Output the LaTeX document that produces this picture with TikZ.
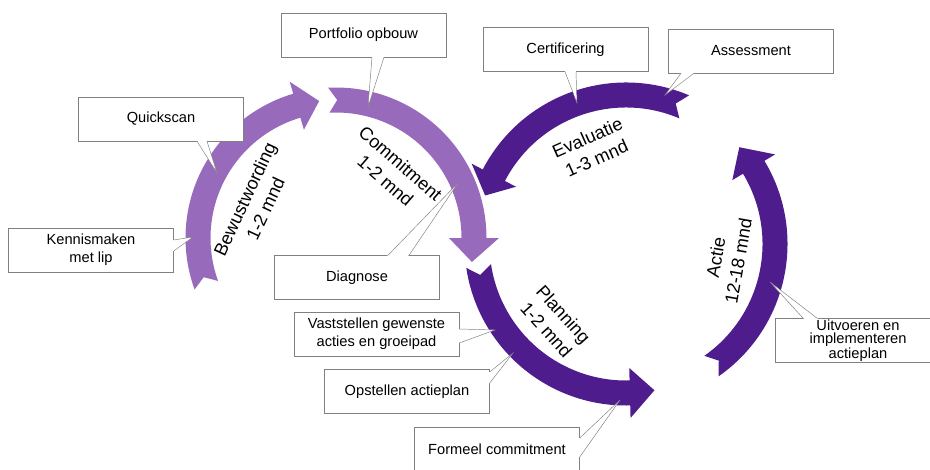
\documentclass[tikz,border=0pt]{standalone}
\usepackage{fontspec}
\setmainfont{Liberation Sans}
\usetikzlibrary{calc}
\definecolor{lightpurple}{RGB}{152,106,188}
\definecolor{darkpurple}{RGB}{78,28,140}
\definecolor{boxgray}{RGB}{128,128,128}

\newcommand{\blockarc}[7]{%
  \pgfmathsetmacro\ro{#2+12.5}\pgfmathsetmacro\ri{#2-12.5}%
  \pgfmathsetmacro\rh{#2+25}\pgfmathsetmacro\rl{#2-25}%
  \fill[#7] ([shift={(#3:\ro)}]#1) arc[start angle=#3, end angle=#5, radius=\ro]
    -- ([shift={(#5:\rh)}]#1) -- ([shift={(#6:#2)}]#1) -- ([shift={(#5:\rl)}]#1)
    -- ([shift={(#5:\ri)}]#1) arc[start angle=#5, end angle=#3, radius=\ri]
    -- ([shift={(#4:#2)}]#1) -- cycle;
}
\newcommand{\callout}[5]{%
  \coordinate (p1) at ($(#1.#2)+(#3)$);
  \coordinate (p2) at ($(#1.#2)+(#4)$);
  \fill[white] ($(p1)!1.5pt!(#1.center)$) -- (p1) -- (#5) -- (p2) -- ($(p2)!1.5pt!(#1.center)$) -- cycle;
  \draw[boxgray] (p1) -- (#5) -- (p2);
}

\begin{document}
\begin{tikzpicture}[x=0.03cm,y=0.03cm,
  box/.style={draw=boxgray,fill=white,minimum width=4.95cm,minimum height=1.32cm,inner sep=1pt,align=center,font=\fontsize{12.5}{15.3}\selectfont},
  phase/.style={align=center,inner sep=0pt,font=\fontsize{15.5}{19.5}\selectfont}]
\useasboundingbox (0,0) rectangle (930,-469);
\coordinate (lc) at (336,-238);
\coordinate (rc) at (626,-244);
\blockarc{lc}{138}{200}{196.5}{106.5}{97}{lightpurple}
\blockarc{lc}{138}{93}{89.5}{0}{-10}{lightpurple}
\blockarc{rc}{149}{188.5}{192}{271.5}{281}{darkpurple}
\blockarc{rc}{149}{-55}{-51.5}{31}{40.5}{darkpurple}
\blockarc{rc}{149}{67}{70.5}{152.5}{161}{darkpurple}
\node[phase,rotate=65] (lbw) at (255,-204) {Bewustwording\\1-2 mnd};
\node[phase,rotate=-41] (lcm) at (393,-172) {Commitment\\1-2 mnd};
\node[phase,rotate=-48] (lpl) at (555,-322) {Planning\\1-2 mnd};
\node[phase,rotate=80] (lac) at (727,-259) {Actie\\12-18 mnd};
\node[phase,rotate=24] (lev) at (592,-148) {Evaluatie\\1-3 mnd};
\coordinate (tpf) at (368,-107);
\coordinate (tqs) at (217,-173);
\coordinate (tkm) at (193,-237);
\coordinate (tdg) at (458,-183);
\coordinate (tcf) at (577,-103);
\coordinate (tas) at (665,-95);
\coordinate (tvs) at (495,-330);
\coordinate (toa) at (513,-353);
\coordinate (tfc) at (620,-400);
\coordinate (tui) at (770,-282);
\node[box] (pf) at (363.5,-35) {Portfolio opbouw};
\node[box] (qs) at (161,-119) {Quickscan};
\node[box] (km) at (91,-250) {Kennismaken\\met lip};
\node[box] (dg) at (357,-277.5) {Diagnose};
\node[box] (cf) at (565.5,-49.5) {Certificering};
\node[box] (as) at (751,-51) {Assessment};
\node[box] (vs) at (376.5,-334) {Vaststellen gewenste\\acties en groeipad};
\node[box] (oa) at (407,-391.5) {Opstellen actieplan};
\node[box] (fc) at (497,-449) {Formeel commitment};
\node[box,font=\fontsize{12.5}{11.5}\selectfont] (ui) at (858,-340.5) {Uitvoeren en\\implementeren\\actieplan};
\callout{pf}{south}{8.5,0}{20.5,0}{tpf}
\callout{qs}{south}{36,0}{46,0}{tqs}
\callout{km}{east}{0,10}{0,-1}{tkm}
\callout{dg}{north}{31,0}{52,0}{tdg}
\callout{cf}{south}{-0.5,0}{10.5,0}{tcf}
\callout{as}{south}{-70,0}{-57,0}{tas}
\callout{vs}{east}{0,5}{0,-9}{tvs}
\callout{oa}{east}{0,19.5}{0,8.5}{toa}
\callout{fc}{east}{0,11}{0,-8}{tfc}
\callout{ui}{north}{-55,0}{-41,0}{tui}
\end{tikzpicture}
\end{document}
